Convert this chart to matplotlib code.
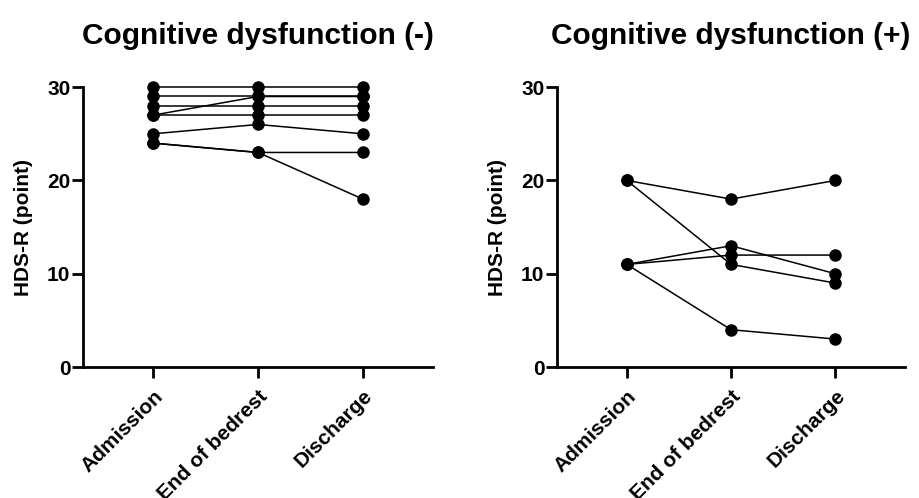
import numpy as np
import matplotlib.pyplot as plt

plt.rcParams['font.family'] = ['Liberation Sans', 'DejaVu Sans']
plt.rcParams['font.weight'] = 'bold'

timepoints = ["Admission", "End of bedrest", "Discharge"]

# each row: one patient (Admission, End of bedrest, Discharge)
neg_scores = [
    [30, 30, 30],
    [29, 29, 29],
    [28, 28, 28],
    [27, 27, 27],
    [27, 29, 29],
    [25, 26, 25],
    [24, 23, 23],
    [24, 23, 18],
]
pos_scores = [
    [20, 18, 20],
    [20, 11, 9],
    [11, 13, 10],
    [11, 12, 12],
    [11, 4, 3],
]

titles = ["Cognitive dysfunction (-)", "Cognitive dysfunction (+)"]

fig = plt.figure(figsize=(9.19, 4.98), dpi=100)
ax1 = fig.add_axes([0.0903, 0.263, 0.381, 0.562])
ax2 = fig.add_axes([0.606, 0.263, 0.379, 0.562])

x = np.arange(len(timepoints))
for ax, data, title in zip([ax1, ax2], [neg_scores, pos_scores], titles):
    for row in data:
        ax.plot(x, row, color='black', lw=1.1, marker='o', ms=8, clip_on=False, zorder=3)
    ax.set_xlim(-0.67, 2.67)
    ax.set_ylim(0, 30)
    ax.set_yticks([0, 10, 20, 30])
    ax.set_xticks(x)
    ax.set_xticklabels(timepoints, rotation=45, ha='right', rotation_mode='anchor',
                       fontsize=15, fontweight='bold')
    for lab in ax.get_yticklabels():
        lab.set_fontsize(15)
        lab.set_fontweight('bold')
    ax.set_ylabel("HDS-R (point)", fontsize=15, fontweight='bold', labelpad=10)
    ax.set_title(title, fontsize=21.5, fontweight='bold', pad=31)
    ax.spines['top'].set_visible(False)
    ax.spines['right'].set_visible(False)
    ax.spines['left'].set_linewidth(2)
    ax.spines['bottom'].set_linewidth(2)
    ax.tick_params(axis='y', width=2, length=8, direction='out', pad=1)
    ax.tick_params(axis='x', width=2, length=8, direction='out', pad=6)

fig.savefig("out.png", dpi=100)
